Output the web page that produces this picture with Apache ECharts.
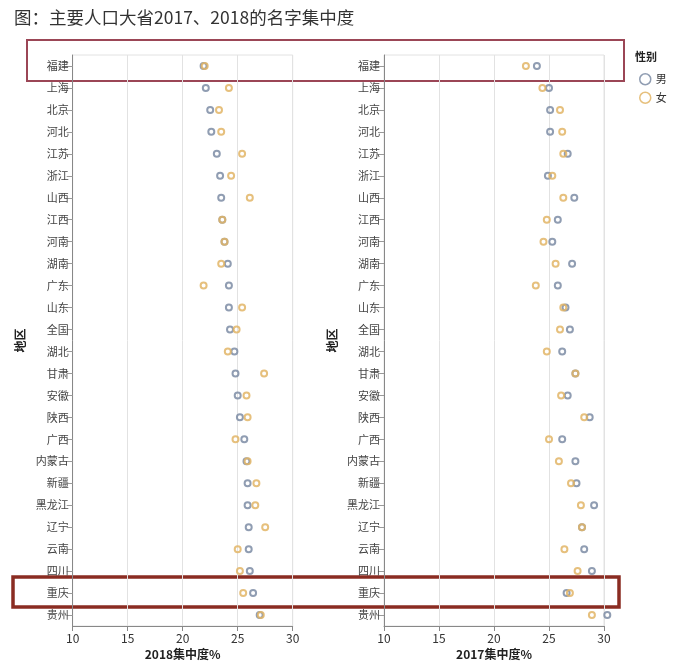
<!DOCTYPE html>
<html><head><meta charset="utf-8">
<script src="https://cdn.jsdelivr.net/npm/echarts@6/dist/echarts.min.js"></script>
<style>html,body{margin:0;padding:0;background:#fff}#c{width:684px;height:672px}</style>
</head><body><div id="c"></div>
<script>
const regions = ['福建','上海','北京','河北','江苏','浙江','山西','江西','河南','湖南','广东','山东','全国','湖北','甘肃','安徽','陕西','广西','内蒙古','新疆','黑龙江','辽宁','云南','四川','重庆','贵州'];
const male2018   = [21.9,22.1,22.5,22.6,23.1,23.4,23.5,23.6,23.8,24.1,24.2,24.2,24.3,24.7,24.8,25.0,25.2,25.6,25.8,25.9,25.9,26.0,26.0,26.1,26.4,27.0];
const female2018 = [22.0,24.2,23.3,23.5,25.4,24.4,26.1,23.6,23.8,23.5,21.9,25.4,24.9,24.1,27.4,25.8,25.9,24.8,25.9,26.7,26.6,27.5,25.0,25.2,25.5,27.1];
const male2017   = [23.9,25.0,25.1,25.1,26.7,24.9,27.3,25.8,25.3,27.1,25.8,26.5,26.9,26.2,27.4,26.7,28.7,26.2,27.4,27.5,29.1,28.0,28.2,28.9,26.6,30.3];
const female2017 = [22.9,24.4,26.0,26.2,26.3,25.3,26.3,24.8,24.5,25.6,23.8,26.3,26.0,24.8,27.4,26.1,28.2,25.0,25.9,27.0,27.9,28.0,26.4,27.6,26.9,28.9];
const xTicks = [10,15,20,25,30];

const C_M = '#7d8ca5', C_F = '#e2b566';
const chart = echarts.init(document.getElementById('c'));
const font = 'Noto Sans CJK SC';
function xAxis(gi, name){
  return {gridIndex:gi, type:'value', min:xTicks[0], max:xTicks[xTicks.length-1], interval:5,
    name:name, nameLocation:'middle', nameGap:22,
    nameTextStyle:{fontFamily:font,fontWeight:'bold',fontSize:12,color:'#222'},
    axisLine:{show:true,onZero:false,lineStyle:{color:'#888'}},
    axisTick:{show:true,length:5,lineStyle:{color:'#888'}},
    axisLabel:{fontFamily:font,fontSize:12,color:'#333',margin:6},
    splitLine:{show:true,lineStyle:{color:'#e2e2e2'}}};
}
function yAxis(gi){
  return {gridIndex:gi, type:'category', data:regions, inverse:true, boundaryGap:true,
    name:'地区', nameLocation:'middle', nameRotate:90, nameGap:46,
    nameTextStyle:{fontFamily:font,fontWeight:'bold',fontSize:12,color:'#222'},
    axisLine:{show:true,lineStyle:{color:'#888'}},
    axisTick:{show:true,alignWithLabel:true,length:6,lineStyle:{color:'#999'}},
    axisLabel:{fontFamily:font,fontSize:11,color:'#444',margin:4,interval:0},
    splitLine:{show:false}};
}
function ser(name, xi, vals, color){
  return {name:name, type:'scatter', xAxisIndex:xi, yAxisIndex:xi, clip:false,
    data: vals.map((v,i)=>[v, regions[i]]), symbol:'circle', symbolSize:6,
    itemStyle:{color:'rgba(255,255,255,0)', borderColor:color, borderWidth:2, opacity:0.85}};
}
chart.setOption({
  animation:false,
  title:{text:'图：主要人口大省2017、2018的名字集中度', left:9, top:4,
    textStyle:{fontFamily:font,fontSize:17.5,fontWeight:'normal',color:'#333'}},
  legend:{top:68, left:634, orient:'vertical', itemWidth:11, itemHeight:11, itemGap:6,
    data:[{name:'男',icon:'circle'},{name:'女',icon:'circle'}],
    textStyle:{fontFamily:font,fontSize:11,color:'#333'},
    itemStyle:{color:'rgba(255,255,255,0)',borderWidth:1.5}},
  grid:[{left:72.7, top:55, width:220, height:571, show:true, borderColor:'#e2e2e2', borderWidth:1},
        {left:384, top:55, width:220, height:571, show:true, borderColor:'#e2e2e2', borderWidth:1}],
  xAxis:[xAxis(0,'2018集中度%'), xAxis(1,'2017集中度%')],
  yAxis:[yAxis(0), yAxis(1)],
  series:[ser('男',0,male2018,C_M), ser('女',0,female2018,C_F),
          ser('男',1,male2017,C_M), ser('女',1,female2017,C_F)],
  graphic:[
    {type:'text', left:635, top:51, style:{text:'性别', font:'bold 11px "Noto Sans CJK SC"', fill:'#222'}},
    {type:'rect', shape:{x:27,y:40,width:597,height:41}, style:{fill:'none', stroke:'#9b4656', lineWidth:2}},
    {type:'rect', shape:{x:13,y:577,width:606,height:30}, style:{fill:'none', stroke:'#8a2c22', lineWidth:3.5}}
  ]
});
</script></body></html>
